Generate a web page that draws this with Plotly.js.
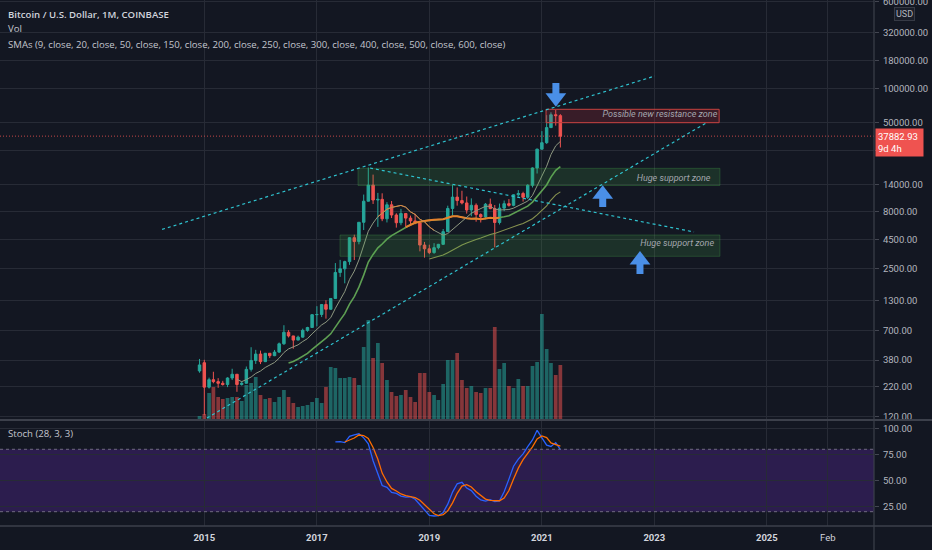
<!DOCTYPE html>
<html><head><meta charset="utf-8">
<script src="https://cdn.plot.ly/plotly-3.0.1.min.js"></script>
<style>html,body{margin:0;padding:0;background:#131722;overflow:hidden;}</style>
</head><body><div id="chart" style="width:932px;height:550px;"></div>
<script>
// ---- Data: BTC/USD monthly, Coinbase, Dec 2014 .. May 2021 ----
const firstYear = 2014, firstMonth = 12;
const opens  = [304,360,218,254,244,236,230,263,284,230,236,314,377,430,368,437,416,448,531,673,624,573,609,700,742,966,970,1190,1080,1348,2300,2480,2875,4700,4340,6450,9950,13850,10200,10330,6930,9240,7490,6390,7730,7030,6630,6370,4040,3740,3460,3830,4100,5320,8570,10820,10080,9600,8300,9150,7560,7200,9350,8540,6420,8630,9450,9140,11350,11650,10780,13800,19700,28990,33110,45140,58790,57720];
const highs  = [389,382,265,299,262,248,267,318,285,245,333,495,469,462,440,440,468,545,778,704,626,628,725,753,975,1150,1200,1300,1360,2790,2980,2930,4750,5000,6470,11400,19891,17180,11800,11700,9760,9990,7760,8500,7760,7400,7680,6600,4310,4070,4200,4140,5620,9070,13880,13200,12330,10950,10540,9510,7750,9580,10500,9190,9480,10080,10390,11450,12480,12080,14100,19940,29300,41990,58350,61800,64895,59500];
const lows   = [293,123,212,236,215,225,218,252,198,225,235,300,351,350,365,396,412,440,520,605,480,572,603,680,740,760,920,890,1070,1350,2100,1840,2690,2970,4100,5500,10900,9400,5873,6600,6430,7040,5780,6070,5880,6100,6200,3550,3120,3350,3380,3700,4050,5330,7450,9080,9320,7710,7300,6530,6420,6860,8450,3850,6160,8110,8900,8970,10950,9870,10420,13200,17570,28730,32300,44950,47000,30000];
const closes = [344,218,254,244,236,230,263,284,230,236,314,377,430,368,437,416,448,531,673,624,573,609,700,742,966,970,1190,1080,1348,2300,2480,2875,4700,4340,6450,9950,13850,10200,10330,6930,9240,7490,6390,7730,7030,6630,6370,4040,3740,3460,3830,4100,5320,8570,10820,10080,9600,8300,9150,7560,7200,9350,8540,6420,8630,9450,9140,11350,11650,10780,13800,19700,28990,33110,45140,58790,57720,37882.93];
const volumesK = [30,50,260,320,220,200,210,220,220,180,340,360,420,240,200,210,170,220,290,220,160,120,130,140,170,210,160,320,520,510,410,410,420,410,340,720,990,610,760,560,390,270,230,240,290,220,170,460,460,270,240,190,350,590,590,660,390,310,330,270,260,310,310,920,500,560,330,310,400,330,330,530,570,1050,700,560,440,540];

// indicator settings
const smaLengths = [9, 20, 50];
const stochLen = 28, stochSmoothK = 3, stochSmoothD = 3;
const sma9OrangeFrom = 38, sma9OrangeTo = 50;
const sma20OrangeFrom = 44, sma20OrangeTo = 64;

// drawings (date, price)
const upperLineDates = ['2014-04-02', '2023-01-05'], upperLinePrices = [5572, 130350];
const lowerLineDates = ['2015-01-18', '2023-12-03'], lowerLinePrices = [115.6, 49630];
const descLineDates  = ['2017-12-12', '2023-09-16'], descLinePrices  = [19680, 5284];
const zoneNames  = ['resistance', 'support1', 'support2'];
const zoneStart  = ['2021-01-28', '2017-09-25', '2017-05-31'];
const zoneEnd    = ['2024-02-26', '2024-03-02', '2024-03-02'];
const zoneLow    = [49930, 13740, 3206];
const zoneHigh   = [65760, 19560, 4968];
const zoneLabels = ['Possible new resistance zone', 'Huge support zone', 'Huge support zone'];
const labelDates = ['2024-02-14', '2024-01-01', '2024-01-24'];
const labelPrices = [58490, 15800, 4129];
const arrowDates = ['2021-04-02', '2022-01-31', '2022-09-30'];
const arrowDir   = ['down', 'up', 'up'];
const arrowTail  = [112900, 8831, 2229];
const arrowNeck  = [86440, 10847, 2852];
const arrowHead  = [83560, 11455, 2972];

const priceTicks = [120,220,380,700,1300,2500,4500,8000,14000,28000,50000,100000,180000,320000,600000];
const stochTicks = [25,50,75,100];
const timeTickVals = ['2015-01-01','2017-01-01','2019-01-01','2021-01-01','2023-01-01','2025-01-01','2026-02-01'];
const timeTickText = ['<b>2015</b>','<b>2017</b>','<b>2019</b>','<b>2021</b>','<b>2023</b>','<b>2025</b>','Feb'];
const X_START = '2011-05-15 10:00', X_END = '2026-11-27 14:00';

// ---- build ----
const months = closes.map((_, i) => {
  const t = (firstMonth - 1) + i;
  const y = firstYear + Math.floor(t / 12), m = t % 12 + 1;
  return y + '-' + String(m).padStart(2, '0') + '-01';
});
function sma(arr, n) {
  return arr.map((_, i) => {
    if (i < n - 1) return null;
    let s = 0;
    for (let j = i - n + 1; j <= i; j++) { if (arr[j] == null) return null; s += arr[j]; }
    return s / n;
  });
}
const smas = smaLengths.map(n => sma(closes, n));
const rawK = closes.map((c, i) => {
  if (i < stochLen - 1) return null;
  let hh = -Infinity, ll = Infinity;
  for (let j = i - stochLen + 1; j <= i; j++) { hh = Math.max(hh, highs[j]); ll = Math.min(ll, lows[j]); }
  return 100 * (c - ll) / (hh - ll);
});
const kLine = sma(rawK, stochSmoothK);
const dLine = sma(kLine, stochSmoothD);
const segment = (arr, a, b) => arr.map((v, i) => (i >= a && i <= b) ? v : null);

const GREEN = '#26a69a', RED = '#ef5350', CYAN = '#2fc3cf', BLUE = '#4a8fe7';
const traces = [];
// volume (base axis, behind)
traces.push({type: 'bar', x: months, y: volumesK, xaxis: 'x', yaxis: 'y',
  marker: {color: closes.map((c, i) => c >= opens[i] ? 'rgba(38,166,154,0.55)' : 'rgba(239,83,80,0.52)'), line: {width: 0}},
  hoverinfo: 'skip'});
// stoch lines
traces.push({type: 'scatter', mode: 'lines', x: months, y: kLine, xaxis: 'x', yaxis: 'y2', line: {color: '#2962ff', width: 1.3}, hoverinfo: 'skip'});
traces.push({type: 'scatter', mode: 'lines', x: months, y: dLine, xaxis: 'x', yaxis: 'y2', line: {color: '#ff6d00', width: 1.3}, hoverinfo: 'skip'});
// candles
traces.push({type: 'candlestick', x: months, open: opens, high: highs, low: lows, close: closes, xaxis: 'x', yaxis: 'y3',
  increasing: {line: {color: GREEN, width: 1}, fillcolor: GREEN},
  decreasing: {line: {color: RED, width: 1}, fillcolor: RED},
  whiskerwidth: 0, hoverinfo: 'skip'});
// SMAs
traces.push({type: 'scatter', mode: 'lines', x: months, y: smas[2], xaxis: 'x', yaxis: 'y3', line: {color: '#87924f', width: 1.1}, hoverinfo: 'skip'});
traces.push({type: 'scatter', mode: 'lines', x: months, y: smas[1], xaxis: 'x', yaxis: 'y3', line: {color: '#5e9f53', width: 1.6}, hoverinfo: 'skip'});
traces.push({type: 'scatter', mode: 'lines', x: months, y: segment(smas[1], sma20OrangeFrom, sma20OrangeTo), xaxis: 'x', yaxis: 'y3', line: {color: '#e5802c', width: 2}, hoverinfo: 'skip'});
traces.push({type: 'scatter', mode: 'lines', x: months, y: smas[0], xaxis: 'x', yaxis: 'y3', line: {color: '#8e9881', width: 1}, hoverinfo: 'skip'});
traces.push({type: 'scatter', mode: 'lines', x: months, y: segment(smas[0], sma9OrangeFrom, sma9OrangeTo), xaxis: 'x', yaxis: 'y3', line: {color: '#d9843c', width: 1}, hoverinfo: 'skip'});
// zones
zoneNames.forEach((nm, k) => {
  const isRes = nm === 'resistance';
  traces.push({type: 'scatter', mode: 'lines', fill: 'toself', xaxis: 'x', yaxis: 'y3',
    x: [zoneStart[k], zoneEnd[k], zoneEnd[k], zoneStart[k], zoneStart[k]],
    y: [zoneLow[k], zoneLow[k], zoneHigh[k], zoneHigh[k], zoneLow[k]],
    fillcolor: isRes ? 'rgba(242,54,69,0.17)' : 'rgba(76,175,80,0.17)',
    line: {color: isRes ? '#c8413f' : 'rgba(76,175,80,0.28)', width: 1}, hoverinfo: 'skip'});
});
// trend lines
[[upperLineDates, upperLinePrices], [lowerLineDates, lowerLinePrices], [descLineDates, descLinePrices]].forEach(([xs, ys]) => {
  traces.push({type: 'scatter', mode: 'lines', x: xs, y: ys, xaxis: 'x', yaxis: 'y3', line: {color: CYAN, width: 1.2, dash: '3px,3px'}, hoverinfo: 'skip'});
});
// last price line
const lastClose = closes[closes.length - 1];
traces.push({type: 'scatter', mode: 'lines', x: [X_START, X_END], y: [lastClose, lastClose], xaxis: 'x', yaxis: 'y3', line: {color: 'rgba(239,83,80,0.8)', width: 1, dash: '1px,2px'}, hoverinfo: 'skip'});
// zone labels
traces.push({type: 'scatter', mode: 'text', x: labelDates, y: labelPrices, text: zoneLabels, xaxis: 'x', yaxis: 'y3',
  textposition: 'middle left', textfont: {family: 'Liberation Sans Narrow, Roboto, sans-serif', size: 9, style: 'italic', color: '#a3a6ae'}, hoverinfo: 'skip'});
// arrows
arrowDates.forEach((d, k) => {
  traces.push({type: 'scatter', mode: 'lines', x: [d, d], y: [arrowTail[k], arrowNeck[k]], xaxis: 'x', yaxis: 'y3', line: {color: BLUE, width: 7}, hoverinfo: 'skip'});
  traces.push({type: 'scatter', mode: 'markers', x: [d], y: [arrowHead[k]], xaxis: 'x', yaxis: 'y3',
    marker: {symbol: arrowDir[k] === 'down' ? 'triangle-down' : 'triangle-up', size: 18, color: BLUE, line: {width: 0}}, hoverinfo: 'skip'});
});

const GRID = '#272b36', AXIS = '#434651', TICKC = '#b2b5be';
const tickFont = {family: 'Roboto, sans-serif', size: 9.5, color: TICKC};
const fmt = v => v.toFixed(2);
const PRICE_DOMAIN = [0.20342, 1];
const layout = {
  width: 932, height: 550,
  paper_bgcolor: '#131722', plot_bgcolor: '#131722',
  margin: {l: 0, r: 58, t: 0, b: 24},
  showlegend: false, hovermode: false, dragmode: false,
  bargap: 0.14, boxgap: 0.18,
  font: {family: 'Open Sans, sans-serif', color: TICKC},
  xaxis: {type: 'date', range: [X_START, X_END], anchor: 'y2', tickmode: 'array', tickvals: timeTickVals, ticktext: timeTickText,
    tickfont: {family: 'Roboto, sans-serif', size: 9.5, color: '#d1d4dc'}, showgrid: true, gridcolor: GRID, gridwidth: 1,
    showline: false, ticks: '', ticklabelstandoff: 4, zeroline: false, rangeslider: {visible: false}, fixedrange: true},
  yaxis: {domain: PRICE_DOMAIN, range: [0, 4190], visible: false, showgrid: false, zeroline: false, fixedrange: true},
  yaxis3: {overlaying: 'y', anchor: 'x', type: 'log', range: [2.054, 5.7934], side: 'right', tickmode: 'array',
    tickvals: priceTicks, ticktext: priceTicks.map(fmt), tickfont: tickFont, showgrid: true, gridcolor: GRID,
    ticks: 'outside', ticklen: 4, tickcolor: AXIS, ticklabelstandoff: 2, ticklabeloverflow: 'allow',
    showline: false, zeroline: false, fixedrange: true},
  yaxis2: {domain: [0, 0.19962], anchor: 'x', range: [6.25, 107.2], side: 'right', tickmode: 'array',
    tickvals: stochTicks, ticktext: stochTicks.map(fmt), tickfont: tickFont, showgrid: true, gridcolor: GRID,
    ticks: 'outside', ticklen: 4, tickcolor: AXIS, ticklabelstandoff: 2, showline: false, zeroline: false, fixedrange: true},
  shapes: [
    {type: 'rect', xref: 'paper', yref: 'y2', x0: 0, x1: 1, y0: 20, y1: 80, fillcolor: 'rgba(115,45,205,0.26)', line: {width: 0}, layer: 'below'},
    {type: 'line', xref: 'paper', yref: 'y2', x0: 0, x1: 1, y0: 80, y1: 80, line: {color: '#6f6a80', width: 1, dash: '3px,3px'}},
    {type: 'line', xref: 'paper', yref: 'y2', x0: 0, x1: 1, y0: 20, y1: 20, line: {color: '#6f6a80', width: 1, dash: '3px,3px'}},
    {type: 'line', xref: 'paper', yref: 'paper', x0: 0, x1: 1.0664, y0: 0.2015, y1: 0.2015, line: {color: '#3c404b', width: 2}},
    {type: 'line', xref: 'paper', yref: 'paper', x0: 0, x1: 1.0664, y0: 0, y1: 0, line: {color: '#3c404b', width: 1.5}},
    {type: 'line', xref: 'paper', yref: 'paper', x0: 1, x1: 1, y0: -0.05, y1: 1, line: {color: '#3c404b', width: 1.2}}
  ],
  annotations: [
    {xref: 'paper', yref: 'paper', x: 0.0069, y: 0.9715, xanchor: 'left', yanchor: 'middle', showarrow: false,
      text: 'Bitcoin / U.S. Dollar, 1M, COINBASE', font: {family: 'Open Sans, sans-serif', size: 9.6, weight: 600, color: '#d1d4dc'}},
    {xref: 'paper', yref: 'paper', x: 0.0069, y: 0.9449, xanchor: 'left', yanchor: 'middle', showarrow: false,
      text: 'Vol', font: {family: 'Open Sans, sans-serif', size: 9.6, color: '#c3c6ce'}},
    {xref: 'paper', yref: 'paper', x: 0.0069, y: 0.9163, xanchor: 'left', yanchor: 'middle', showarrow: false,
      text: 'SMAs (9, close, 20, close, 50, close, 150, close, 200, close, 250, close, 300, close, 400, close, 500, close, 600, close)', font: {family: 'Open Sans, sans-serif', size: 9.6, color: '#c3c6ce'}},
    {xref: 'paper', yref: 'paper', x: 0.0069, y: 0.1768, xanchor: 'left', yanchor: 'middle', showarrow: false,
      text: 'Stoch (28, 3, 3)', font: {family: 'Open Sans, sans-serif', size: 9.6, color: '#c3c6ce'}},
    {xref: 'paper', yref: 'paper', x: 1.0349, y: 0.9743, xanchor: 'center', yanchor: 'middle', showarrow: false,
      text: 'USD', font: {family: 'Roboto, sans-serif', size: 9, color: TICKC}, bgcolor: '#1a1e29', bordercolor: '#363a45', borderwidth: 1, borderpad: 1},
    {xref: 'paper', yref: 'y3', x: 1, y: Math.log10(lastClose), xanchor: 'left', yanchor: 'middle', xshift: 1, yshift: -6.5, showarrow: false,
      text: fmt(lastClose) + '<br>9d 4h', align: 'left', width: 43, bgcolor: RED, borderpad: 2,
      font: {family: 'Roboto, sans-serif', size: 9.5, color: '#ffffff'}}
  ]
};
Plotly.newPlot('chart', traces, layout, {staticPlot: true, displayModeBar: false});
</script></body></html>
